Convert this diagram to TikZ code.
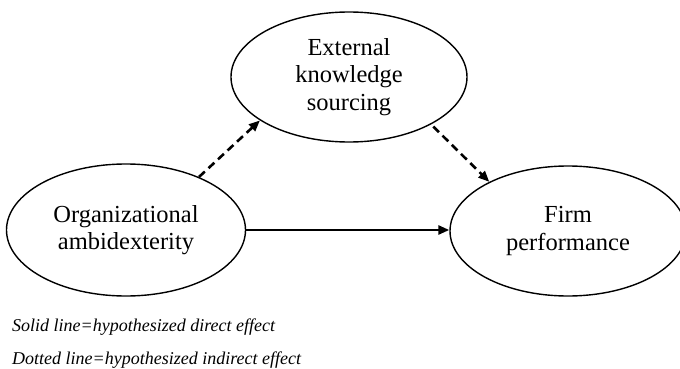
\documentclass[tikz,border=0pt]{standalone}
\usepackage{fontspec}
\setmainfont{Liberation Serif}
\usetikzlibrary{shapes.geometric,arrows.meta}
\begin{document}
\begin{tikzpicture}[x=1pt,y=-1pt,
  construct/.style={draw, line width=1.4pt, ellipse, inner sep=0pt, align=center,
    font=\fontsize{24.5}{27.5}\selectfont},
  dashedarrow/.style={line width=2.6pt, dash pattern=on 8pt off 5pt, -{Triangle[length=11pt,width=9pt]}},
  solidarrow/.style={line width=2.6pt, -{Triangle[length=11pt,width=9pt]}},
  legend/.style={anchor=base west, inner sep=0pt, font=\fontsize{18}{20}\selectfont\itshape}]
\useasboundingbox (0,0) rectangle (680,369);
\node[construct, minimum width=236pt, minimum height=130pt] (T) at (349,77) {External\\knowledge\\sourcing};
\node[construct, minimum width=239pt, minimum height=132pt] (L) at (126,230) {Organizational\\ambidexterity};
\node[construct, minimum width=236pt, minimum height=130pt] (R) at (568,231) {Firm\\performance};
\draw[dashedarrow] (L.36) -- (T.206);
\draw[dashedarrow, shorten <=3pt] (T.-30) -- (R.148);
\draw[solidarrow] (L.east) -- (L.east -| R.west);
\node[legend] (l1) at (12,331) {Solid line=hypothesized direct effect};
\node[legend] (l2) at (12,364) {Dotted line=hypothesized indirect effect};
\end{tikzpicture}
\end{document}
